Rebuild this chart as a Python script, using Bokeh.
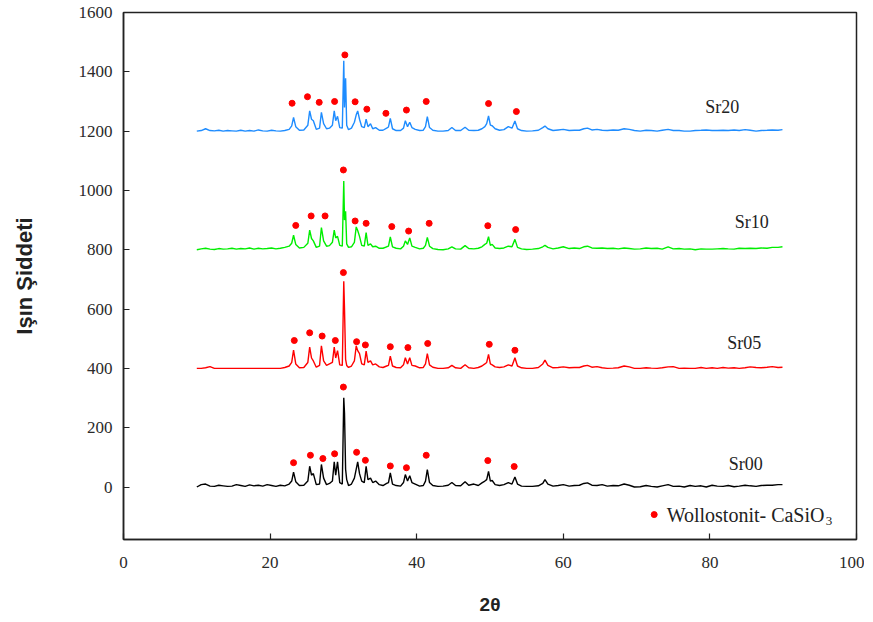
from bokeh.plotting import figure
from bokeh.models import Range1d, ColumnDataSource, FixedTicker
from bokeh.core.properties import value
from bokeh.embed import file_html
from bokeh.resources import INLINE

# ---------------- data ----------------
two_theta = [
    # 10 - 22.6
    10.0, 10.6, 11.2, 11.8, 12.4, 13.0, 13.6, 14.2, 14.8, 15.4, 16.0, 16.6, 17.2, 17.8,
    18.4, 19.0, 19.6, 20.2, 20.8, 21.4, 22.0, 22.6,
    22.95, 23.2, 23.5, 24.0, 24.6,
    25.15, 25.4, 25.65, 25.9, 26.3,
    26.75, 27.0, 27.3, 27.7, 28.1,
    28.5, 28.75, 28.95, 29.2, 29.5,
    29.85, 30.05, 30.15, 30.3, 30.45, 30.7,
    31.1, 31.5, 31.75, 31.95, 32.2, 32.5,
    32.85, 33.1, 33.35, 33.7, 34.0, 34.4, 34.9,
    35.4, 35.9, 36.15, 36.4, 36.7, 37.2,
    37.8, 38.2, 38.45, 38.75, 39.05, 39.35, 39.8, 40.4,
    40.9, 41.2, 41.45, 41.75, 42.2, 42.9,
    43.6, 44.3, 44.8, 45.3, 46.0, 46.6, 47.1, 47.8, 48.4, 48.9, 49.3,
    49.55, 49.8, 50.05, 50.3, 50.7, 51.3,
    51.9, 52.5, 53.0, 53.4, 53.75, 54.3, 55.0,
    55.8, 56.6, 57.2, 57.5, 57.9, 58.6, 59.3, 60.0, 60.8, 61.5,
    62.2, 62.8, 63.3, 63.9, 64.6, 65.3, 66.0, 66.8, 67.5, 68.3, 69.0, 69.7, 70.5,
    71.3, 72.0, 72.8, 73.5, 74.3, 75.0, 75.8, 76.5, 77.3, 78.0, 78.8, 79.5, 80.3,
    81.0, 81.8, 82.5, 83.3, 84.0, 84.8, 85.5, 86.3, 87.0, 87.8, 88.5, 89.3, 89.9,
]

sr00 = [
    0, 8, 10, 3, 2, 6, 4, 2, 3, 8, 5, 2, 7, 4, 6, 3, 8, 5, 2, 6, 4, 10,
    20, 50, 18, 5, 6,
    20, 70, 40, 45, 8,
    10, 76, 30, 8, 12,
    20, 85, 40, 85, 15,
    10, 301, 250, 60, 25, 5,
    10, 30, 60, 85, 45, 20,
    15, 70, 25, 30, 15, 20, 8,
    5, 12, 15, 48, 10, 5,
    3, 15, 42, 20, 38, 15, 10, 3,
    5, 20, 59, 15, 5, 2,
    3, 6, 15, 5, 4, 18, 6, 10, 5, 14, 20,
    25, 53, 20, 22, 8, 5,
    8, 15, 10, 34, 10, 3, 2,
    2, 4, 12, 25, 10, 3, 5, 8, 3, 5,
    6, 12, 14, 6, 5, 8, 3, 5, 4, 10, 6, 0, 1, 5, 2, 0, 4, 8, 2, 3, 0, 5, 2, 4, 0, 6,
    3, 2, 5, 1, 3, 6, 4, 2, 5, 6, 6, 8, 8,
]

sr05 = [
    0, 0, 2, 6, 0, 0, 0, 0, 0, 0, 0, 0, 0, 0, 0, 0, 0, 0, 0, 0, 3, 8,
    20, 62, 15, 2, 3,
    20, 72, 35, 25, 4,
    10, 76, 25, 10, 15,
    20, 72, 35, 60, 12,
    10, 294, 200, 30, 10, 3,
    8, 25, 76, 60, 50, 15,
    12, 58, 20, 25, 12, 15, 5,
    3, 8, 10, 41, 8, 3,
    2, 12, 36, 15, 36, 10, 8, 2,
    3, 15, 50, 12, 4, 0,
    0, 2, 10, 2, 0, 12, 2, 0, 3, 8, 15,
    20, 47, 15, 12, 5, 3,
    5, 12, 8, 36, 8, 2, 0,
    0, 3, 15, 28, 10, 2, 3, 5, 2, 3,
    3, 8, 10, 4, 6, 2, 0, 1, 2, 8, 5, 0, 0, 2, 1, 0, 2, 5, 6, 0, 1, 0, 0, 3, 0, 2,
    0, 3, 1, 2, 0, 2, 5, 3, 2, 4, 6, 3, 4,
]

sr10 = [
    0, 3, 5, 2, 1, 4, 2, 3, 5, 2, 4, 3, 6, 2, 5, 3, 4, 6, 3, 5, 8, 12,
    22, 49, 18, 6, 8,
    22, 66, 38, 30, 8,
    12, 75, 30, 12, 14,
    25, 66, 40, 45, 15,
    12, 232, 100, 130, 20, 8,
    10, 25, 77, 65, 45, 15,
    12, 58, 15, 20, 10, 12, 5,
    5, 10, 12, 43, 10, 5,
    3, 12, 30, 18, 40, 12, 8, 3,
    5, 15, 42, 12, 4, 1,
    0, 3, 10, 3, 2, 14, 4, 3, 5, 10, 18,
    22, 44, 15, 18, 6, 4,
    6, 12, 10, 35, 8, 3, 1,
    2, 4, 10, 15, 8, 3, 6, 10, 4, 6,
    4, 10, 12, 6, 5, 6, 4, 5, 3, 6, 4, 2, 3, 6, 4, 5, 2, 10, 3, 4, 2, 3, 0, 3, 2, 2,
    3, 4, 3, 2, 5, 4, 5, 4, 6, 5, 8, 8, 10,
]

sr20 = [
    0, 2, 8, 2, 1, 3, 0, 2, 1, 0, 3, 0, 2, 0, 4, 1, 0, 3, 1, 0, 2, 6,
    18, 46, 15, 3, 4,
    20, 68, 40, 35, 6,
    10, 63, 25, 8, 10,
    20, 68, 35, 50, 12,
    10, 237, 80, 178, 20, 5,
    10, 30, 55, 68, 40, 15,
    12, 40, 15, 25, 8, 12, 3,
    3, 10, 14, 43, 8, 2,
    2, 10, 35, 15, 30, 12, 6, 2,
    3, 15, 49, 12, 3, 0,
    0, 2, 12, 2, 2, 13, 3, 2, 3, 8, 15,
    25, 51, 20, 18, 8, 3,
    5, 15, 10, 34, 8, 2, 0,
    1, 3, 12, 17, 8, 2, 4, 6, 2, 3,
    3, 8, 10, 4, 6, 3, 2, 4, 3, 8, 6, 2, 0, 3, 2, 0, 3, 6, 2, 2, 0, 0, 2, 3, 4, 2,
    2, 3, 2, 4, 2, 5, 3, 0, 2, 3, 4, 3, 5,
]

series_names = ["Sr00", "Sr05", "Sr10", "Sr20"]
series_offsets = [0, 400, 800, 1200]
series_colors = ["#000000", "#FF0000", "#00EE00", "#1E8CFF"]

# Wollastonite peak markers (2θ, height above each pattern's own baseline)
w00_x = [23.2, 25.5, 27.2, 28.8, 30.0, 31.8, 33.0, 36.4, 38.6, 41.3, 49.7, 53.3]
w00_y = [82, 107, 96, 112, 337, 117, 90, 71, 65, 107, 89, 69]
w05_x = [23.3, 25.4, 27.1, 28.9, 30.0, 31.8, 33.0, 36.4, 38.8, 41.5, 49.9, 53.4]
w05_y = [94, 120, 109, 94, 323, 90, 79, 73, 70, 84, 81, 61]
w10_x = [23.5, 25.6, 27.5, 30.0, 31.6, 33.1, 36.6, 38.9, 41.7, 49.7, 53.5]
w10_y = [82, 114, 114, 269, 97, 89, 78, 63, 89, 81, 68]
w20_x = [23.0, 25.1, 26.7, 28.8, 30.2, 31.6, 33.2, 35.8, 38.6, 41.3, 49.8, 53.6]
w20_y = [94, 116, 97, 100, 257, 99, 74, 60, 71, 100, 93, 66]

x_ticks = [0, 20, 40, 60, 80, 100]
y_ticks = [0, 200, 400, 600, 800, 1000, 1200, 1400, 1600]

legend_label = "Wollostonit- CaSiO"
legend_sub = "3"

# ---------------- figure ----------------
p = figure(width=864, height=617, output_backend="svg", toolbar_location=None,
           x_range=Range1d(0, 100), y_range=Range1d(-177, 1600),
           min_border_left=123, min_border_right=8, min_border_top=12,
           min_border_bottom=76)
p.background_fill_color = "white"
p.border_fill_color = "white"
p.outline_line_color = "#222222"
p.outline_line_width = 1.5
p.xgrid.visible = False
p.ygrid.visible = False

tick_font = "Liberation Serif"
for ax in (p.xaxis[0], p.yaxis[0]):
    ax.major_tick_in = 6
    ax.major_tick_out = 0
    ax.minor_tick_line_color = None
    ax.axis_line_color = "#222222"
    ax.axis_line_width = 1.5
    ax.major_tick_line_color = "#222222"
    ax.major_tick_line_width = 1.2
    ax.major_label_text_font = tick_font
    ax.major_label_text_font_size = "17px"
    ax.major_label_text_color = "#2a2a2a"
    ax.axis_label_text_font = "Liberation Sans"
    ax.axis_label_text_font_style = "bold"
    ax.axis_label_text_color = "#222222"

p.xaxis.axis_label_text_font_size = "19px"
p.yaxis.axis_label_text_font_size = "22px"
p.xaxis.ticker = FixedTicker(ticks=x_ticks)
p.yaxis.ticker = FixedTicker(ticks=y_ticks)
p.xaxis.major_label_standoff = 17
p.yaxis.major_label_standoff = 11
p.xaxis.axis_label = "2θ"
p.yaxis.axis_label = "Işın Şiddeti"
p.xaxis.axis_label_standoff = 23
p.yaxis.axis_label_standoff = 39

all_series = [sr00, sr05, sr10, sr20]
marker_sets = [(w00_x, w00_y), (w05_x, w05_y), (w10_x, w10_y), (w20_x, w20_y)]

for ys, off, col, (mx, my) in zip(all_series, series_offsets, series_colors, marker_sets):
    assert len(ys) == len(two_theta)
    src = ColumnDataSource(dict(x=two_theta, y=[v + off for v in ys]))
    p.line("x", "y", source=src, line_color=col, line_width=1.4)
    msrc = ColumnDataSource(dict(x=mx, y=[v + off for v in my]))
    p.scatter("x", "y", source=msrc, marker="circle", size=6,
              fill_color="#FF0000", line_color="#FF0000")

# series labels
lab_src = ColumnDataSource(dict(x=[81.7, 85.7, 84.7, 84.9],
                                y=[1281, 892, 484, 79],
                                t=["Sr20", "Sr10", "Sr05", "Sr00"]))
p.text("x", "y", text="t", source=lab_src, text_font=value("Liberation Serif"),
       text_font_size="18px", text_color="#222222", text_align="center",
       text_baseline="middle")

# legend (manual, for the subscript)
p.scatter([72.4], [-93], marker="circle", size=6, fill_color="#FF0000",
          line_color="#FF0000")
p.text([74.1], [-93], text=[legend_label], text_font=value("Liberation Serif"),
       text_font_size="20px", text_color="#222222", text_align="left",
       text_baseline="middle")
p.text([95.8], [-113], text=[legend_sub], text_font=value("Liberation Serif"),
       text_font_size="13px", text_color="#222222", text_align="left",
       text_baseline="middle")

open("out.html", "w").write(file_html(p, INLINE))
